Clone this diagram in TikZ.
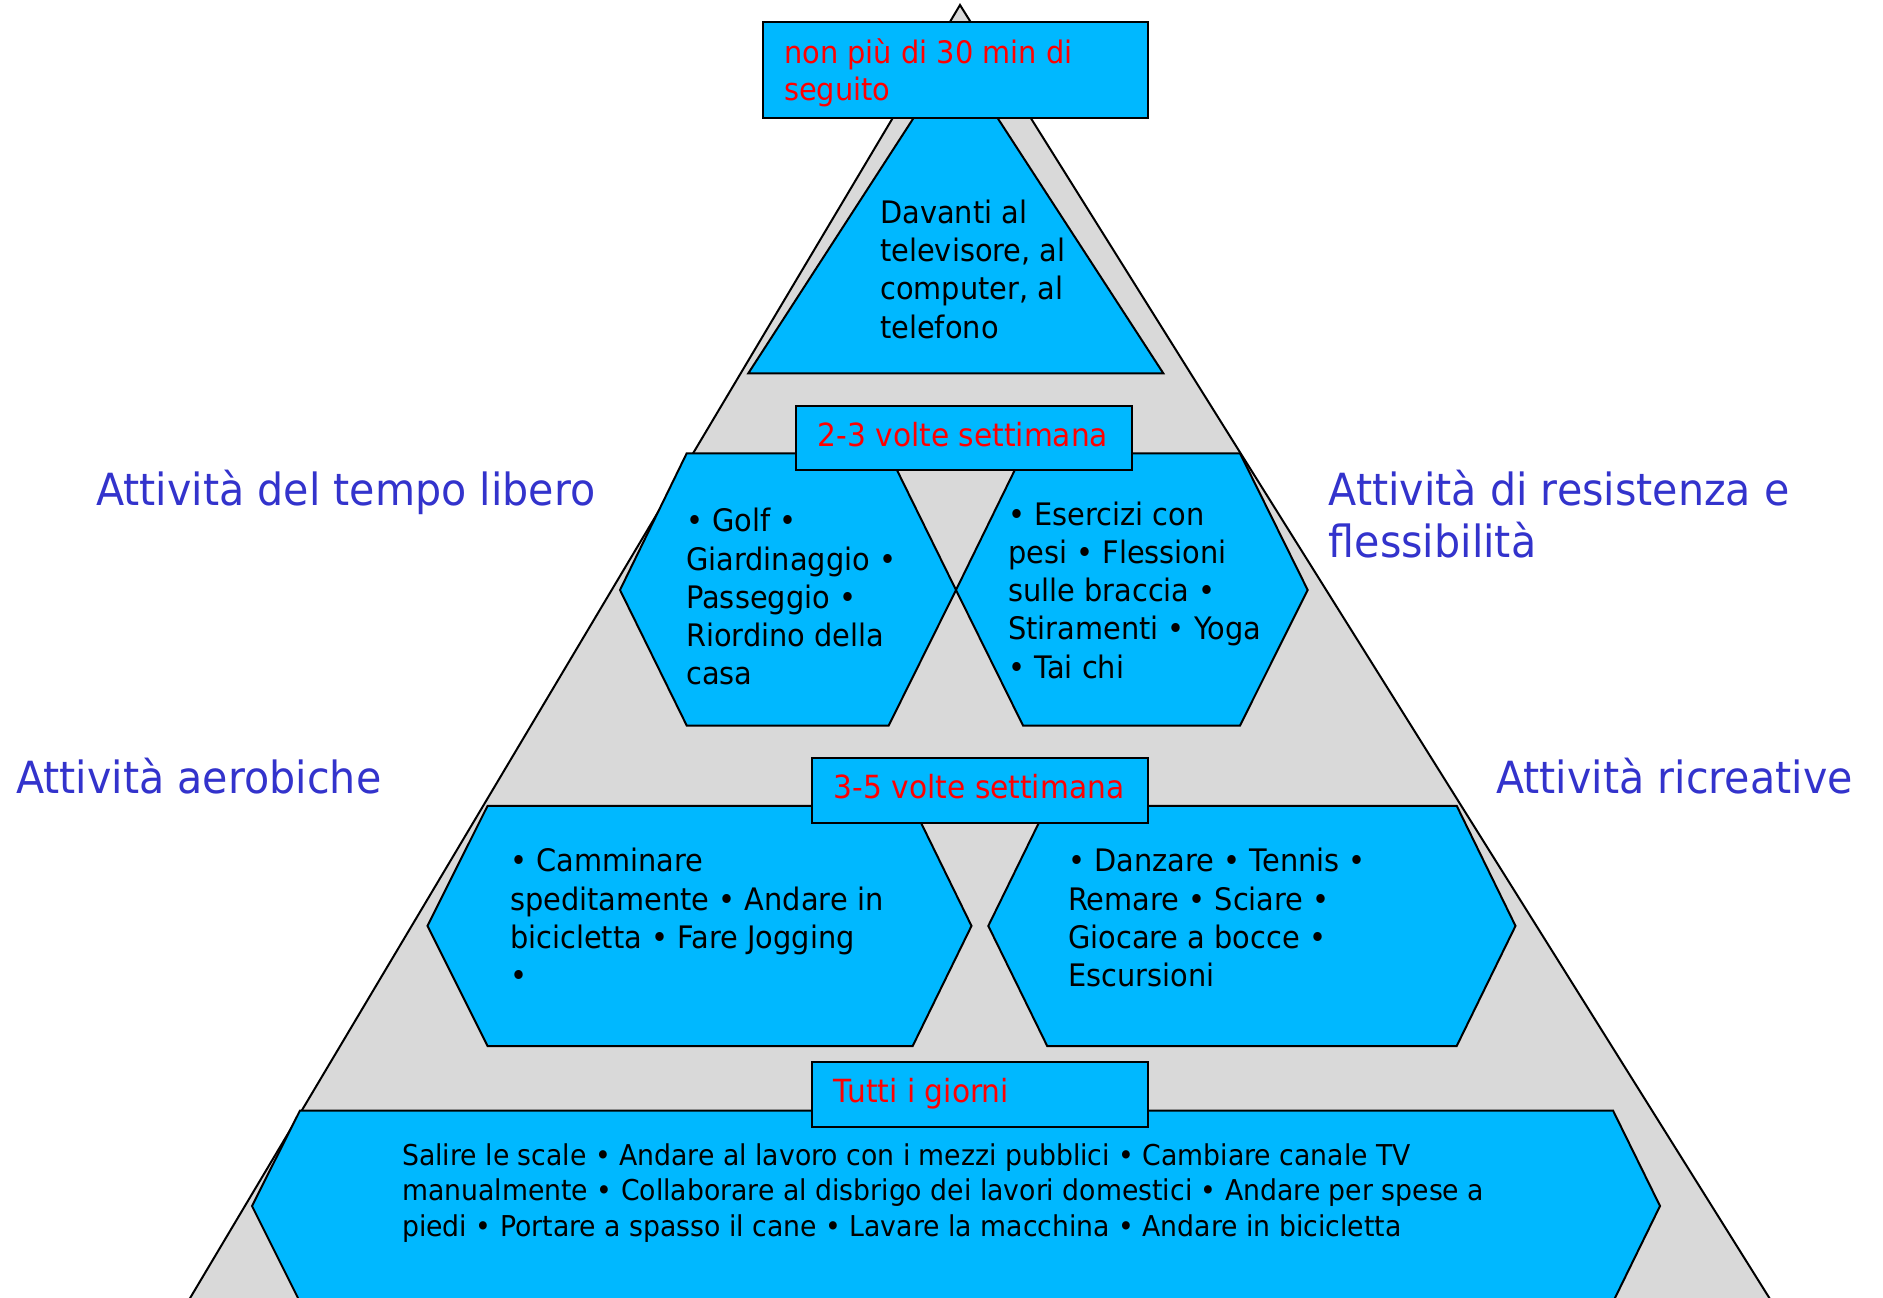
\documentclass[tikz,border=0pt]{standalone}
\usepackage{fontspec}
\setmainfont{DejaVu Sans}[FakeStretch=0.93]
\definecolor{pyrgray}{RGB}{217,217,217}
\definecolor{skyb}{RGB}{0,184,255}
\definecolor{redt}{RGB}{255,0,0}
\definecolor{lblue}{RGB}{51,51,204}
\begin{document}
\begin{tikzpicture}[x=1pt,y=-1pt,
  shp/.style={draw=black, fill=skyb, line width=2pt, line join=miter},
  redtxt/.style={text=redt, inner sep=0pt, anchor=base west, align=left, font=\fontsize{31}{36.7}\selectfont},
  redone/.style={redtxt, font=\fontsize{31.9}{36.7}\selectfont},
  bodytxt/.style={text=black, inner sep=0pt, anchor=base west, align=left, font=\fontsize{31}{38.3}\selectfont},
  bottxt/.style={text=black, inner sep=0pt, anchor=base west, align=left, font=\fontsize{28.7}{35.5}\selectfont},
  lbl/.style={text=lblue, inner sep=0pt, anchor=base west, align=left, font=\fontsize{44.3}{52}\selectfont}]
\useasboundingbox (0,0) rectangle (1883,1298);
\clip (0,0) rectangle (1883,1298);
% big pyramid
\path[fill=pyrgray] (960,5) -- (180,1315) -- (1780,1315) -- cycle;
\draw[line width=2pt] (180,1315) -- (960,5) -- (1780,1315);
% top triangle
\draw[shp] (955.5,53.2) -- (1163.3,373.3) -- (748.3,373.3) -- cycle;
% hexagons level 1
\draw[shp] (686.7,453.3) -- (888.7,453.3) -- (956,590) -- (888.7,725.5) -- (686.7,725.5) -- (620,590) -- cycle;
\draw[shp] (1023,453.3) -- (1240,453.3) -- (1307.7,590) -- (1240,725.5) -- (1023,725.5) -- (956,590) -- cycle;
% hexagons level 2
\draw[shp] (487.6,805.8) -- (912.7,805.8) -- (971.5,925.9) -- (912.7,1046) -- (487.6,1046) -- (427.5,925.9) -- cycle;
\draw[shp] (1047.2,805.8) -- (1456.7,805.8) -- (1515.5,925.9) -- (1456.7,1046) -- (1047.2,1046) -- (988.3,925.9) -- cycle;
% bottom hexagon
\draw[shp] (300,1110.5) -- (1613,1110.5) -- (1660,1206) -- (1613,1302) -- (300,1302) -- (252,1206) -- cycle;
% frequency boxes
\draw[shp] (763.3,21.7) rectangle (1148.3,118.3);
\draw[shp] (796.2,405.7) rectangle (1132,470);
\draw[shp] (811.6,758.3) rectangle (1147.5,822.5);
\draw[shp] (811.6,1061.7) rectangle (1147.5,1126.7);
% texts (anchor = baseline of the last line)
\node[redtxt] (f0) at (784,100) {non più di 30 min di\\seguito};
\node[redone] (f1) at (817.5,446.7) {2-3 volte settimana};
\node[redone] (f2) at (833.7,798.3) {3-5 volte settimana};
\node[redone] (f3) at (833.7,1102.7) {Tutti i giorni};
\node[bodytxt] (tri) at (880,338.2) {Davanti al\\televisore, al\\computer, al\\telefono};
\node[bodytxt] (hl1) at (686,684.9) {• Golf •\\Giardinaggio •\\Passeggio •\\Riordino della\\casa};
\node[bodytxt] (hr1) at (1008,678.2) {• Esercizi con\\pesi • Flessioni\\sulle braccia •\\Stiramenti • Yoga\\• Tai chi};
\node[bodytxt] (hl2) at (510,986.6) {• Camminare\\speditamente • Andare in\\bicicletta • Fare Jogging\\•};
\node[bodytxt] (hr2) at (1068,986.6) {• Danzare • Tennis •\\Remare • Sciare •\\Giocare a bocce •\\Escursioni};
\node[bottxt] (bot) at (402,1236) {Salire le scale • Andare al lavoro con i mezzi pubblici • Cambiare canale TV\\manualmente • Collaborare al disbrigo dei lavori domestici • Andare per spese a\\piedi • Portare a spasso il cane • Lavare la macchina • Andare in bicicletta};
% side labels
\node[lbl] (lib) at (96,505) {Attività del tempo libero};
\node[lbl] (res) at (1328.5,557) {Attività di resistenza e\\flessibilità};
\node[lbl] (aer) at (16,793) {Attività aerobiche};
\node[lbl] (ric) at (1496,793) {Attività ricreative};
\end{tikzpicture}
\end{document}
